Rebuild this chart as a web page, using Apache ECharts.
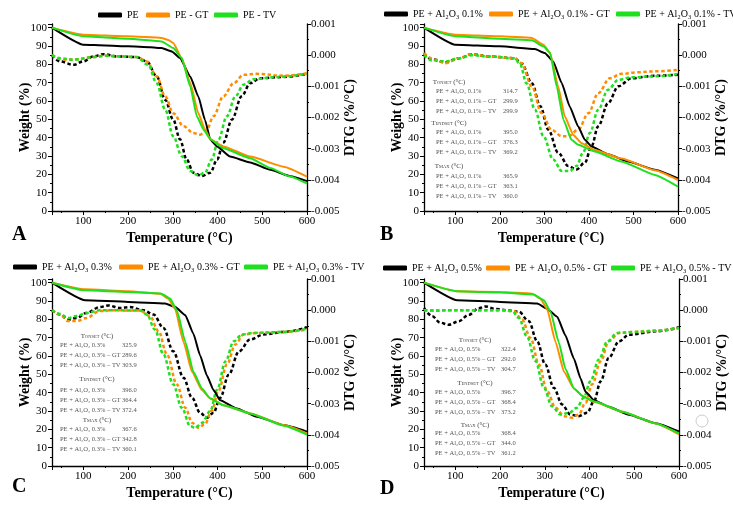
<!DOCTYPE html>
<html>
<head>
<meta charset="utf-8">
<script src="https://cdn.jsdelivr.net/npm/echarts@6/dist/echarts.min.js"></script>
<style>
html, body { margin: 0; padding: 0; background: #fff; }
#chart { width: 733px; height: 507px; }
</style>
</head>
<body>
<div id="chart"></div>
<script>
// legend names per panel
var namesA = ['PE', 'PE - GT', 'PE - TV'];
var namesB = ['PE + Al₂O₃ 0.1%', 'PE + Al₂O₃ 0.1% - GT', 'PE + Al₂O₃ 0.1% - TV'];
var namesC = ['PE + Al₂O₃ 0.3%', 'PE + Al₂O₃ 0.3% - GT', 'PE + Al₂O₃ 0.3% - TV'];
var namesD = ['PE + Al₂O₃ 0.5%', 'PE + Al₂O₃ 0.5% - GT', 'PE + Al₂O₃ 0.5% - TV'];

// weight (%) vs temperature (°C)
var wA1 = [[30,100],[100,90.7],[150,90.3],[200,89.8],[250,89.3],[275,88.9],[298,87],[316,83.4],[339,73.4],[357,62.5],[372,49.7],[384,38.8],[399,35.2],[428,29.7],[473,26.5],[518,22.5],[563,19],[600,16.3]];
var wA2 = [[30,100],[100,96.2],[200,95.3],[275,94.4],[290,93.3],[301,91.6],[320,83.4],[339,69.8],[357,53.4],[372,44.3],[384,39.2],[413,35.2],[473,29.7],[548,24.2],[600,18.8]];
var wA3 = [[30,100],[100,95.3],[200,94],[275,92.5],[301,88.9],[320,83.4],[339,67.9],[354,51.5],[369,44.3],[384,39.2],[413,34.2],[473,28.8],[518,23.5],[560,19],[600,15]];
var wB1 = [[30,100],[100,90.7],[200,89.8],[279,88.3],[301,86.2],[320,81.6],[339,69.8],[357,57],[376,46.1],[391,38.8],[406,35.2],[443,31],[488,27],[548,22.5],[600,17.8]];
var wB2 = [[30,100],[100,96.2],[200,95.3],[272,94.4],[298,90.7],[313,86.2],[331,67.9],[346,51.5],[365,41.5],[384,37],[413,33.3],[473,28.6],[548,22.2],[600,16.9]];
var wB3 = [[30,100],[100,95.3],[200,94],[272,93.1],[298,89.8],[313,86.2],[328,67.9],[343,49.7],[361,38.8],[376,36.1],[413,32.4],[473,27],[548,19.7],[600,13.3]];
var wC1 = [[30,100],[104,90.4],[200,89.5],[283,88.6],[305,86.8],[328,82.2],[346,72.2],[361,60.4],[376,49.5],[391,41.4],[406,35.9],[443,31.4],[488,26.9],[548,22.3],[600,18.7]];
var wC2 = [[30,100],[104,96.4],[200,95.3],[272,94],[290,91.3],[305,85.8],[324,67.7],[343,51.4],[365,41.4],[384,36.8],[413,33.2],[473,28.7],[548,22.3],[600,17.8]];
var wC3 = [[30,100],[104,95.8],[200,94.9],[275,94],[294,91.3],[309,84.9],[328,67.7],[346,51.4],[365,42.3],[384,36.8],[413,33.2],[473,28.7],[548,22],[600,17.2]];
var wD1 = [[30,100],[104,90.4],[200,89.5],[283,88.6],[305,85.8],[328,81.3],[346,71.3],[365,58.6],[380,47.7],[391,40.5],[410,35.9],[443,32.3],[488,28],[548,23.3],[600,18.8]];
var wD2 = [[30,100],[104,95.3],[200,94.9],[272,94],[290,91.3],[305,85.8],[324,67.7],[343,51.4],[365,42.3],[384,38.3],[410,35],[473,29.6],[548,23.2],[600,17.2]];
var wD3 = [[30,100],[104,95.3],[200,94.6],[275,93.5],[298,90.4],[313,84],[331,67.7],[346,53.2],[365,42.3],[387,37.7],[413,35],[473,29.6],[548,23.2],[600,17.8]];

// DTG (%/°C) vs temperature (°C)
var dA1 = [[30,0],[48,-0.0002],[78,-0.00031],[100,-0.0002],[122,-0.00004],[145,0.00003],[175,-0.00004],[219,-0.00006],[242,-0.0002],[264,-0.00068],[283,-0.00143],[301,-0.00207],[316,-0.0027],[331,-0.00335],[346,-0.00377],[365,-0.00388],[384,-0.00377],[399,-0.00335],[413,-0.00281],[432,-0.00207],[454,-0.00132],[473,-0.0009],[495,-0.00074],[548,-0.0007],[600,-0.0006]];
var dA2 = [[30,0],[55,-0.00015],[85,-0.00013],[122,-0.00006],[145,-0.00002],[219,-0.00006],[242,-0.0002],[264,-0.00068],[283,-0.00132],[301,-0.00186],[324,-0.00228],[346,-0.0025],[361,-0.00255],[376,-0.00239],[391,-0.00196],[413,-0.00132],[436,-0.0009],[458,-0.00063],[488,-0.0006],[548,-0.00066],[600,-0.00058]];
var dA3 = [[30,0],[48,-0.0001],[78,-0.00015],[122,-0.00006],[149,-0.00002],[219,-0.00006],[245,-0.00031],[264,-0.0009],[283,-0.00175],[301,-0.0026],[320,-0.00324],[339,-0.00372],[357,-0.00386],[372,-0.00377],[387,-0.00335],[402,-0.00271],[421,-0.00196],[440,-0.00132],[458,-0.00095],[481,-0.00077],[533,-0.0007],[600,-0.0006]];
var dB1 = [[30,0.00006],[48,-0.00013],[78,-0.00023],[108,-0.0001],[137,0.00003],[175,-0.00004],[234,-0.0001],[249,-0.00026],[272,-0.0009],[291,-0.00164],[309,-0.00239],[331,-0.00313],[354,-0.00356],[372,-0.00367],[391,-0.00345],[406,-0.00292],[421,-0.00228],[443,-0.00154],[466,-0.001],[496,-0.00074],[548,-0.00066],[600,-0.00063]];
var dB2 = [[30,0.00006],[55,-0.00015],[78,-0.00026],[108,-0.0001],[137,0.00003],[175,-0.00004],[234,-0.0001],[249,-0.00026],[272,-0.001],[294,-0.00186],[316,-0.00239],[339,-0.0026],[354,-0.0026],[376,-0.00239],[399,-0.00186],[421,-0.00122],[447,-0.00074],[473,-0.0006],[510,-0.00055],[548,-0.00052],[600,-0.00047]];
var dB3 = [[30,0],[48,-0.00017],[78,-0.0002],[108,-0.0001],[137,0],[175,-0.00004],[234,-0.0001],[246,-0.00031],[260,-0.0009],[279,-0.00175],[298,-0.0026],[320,-0.00335],[339,-0.00372],[357,-0.00372],[372,-0.00356],[387,-0.00313],[402,-0.0025],[421,-0.00175],[443,-0.00111],[466,-0.00079],[496,-0.00071],[548,-0.00068],[600,-0.00061]];
var dC1 = [[30,0],[48,-0.00014],[66,-0.0003],[85,-0.00025],[107,-0.00009],[137,0.0001],[156,0.00015],[182,0.00007],[204,0.0001],[234,0],[257,-0.00014],[279,-0.00057],[301,-0.00132],[324,-0.00217],[343,-0.00281],[361,-0.00329],[376,-0.00345],[391,-0.00329],[406,-0.00281],[425,-0.00207],[448,-0.00132],[473,-0.00094],[503,-0.00078],[548,-0.0007],[600,-0.00055]];
var dC2 = [[30,0],[48,-0.00014],[66,-0.00035],[85,-0.00035],[107,-0.00025],[137,-0.00003],[167,0],[204,-0.00001],[227,-0.00001],[249,-0.00019],[268,-0.00067],[287,-0.00142],[309,-0.00238],[328,-0.00313],[343,-0.00361],[357,-0.00377],[372,-0.00366],[387,-0.00323],[402,-0.00259],[421,-0.00174],[440,-0.0011],[458,-0.00078],[488,-0.00073],[548,-0.0007],[600,-0.00062]];
var dC3 = [[30,0],[48,-0.00012],[66,-0.00025],[85,-0.00019],[107,-0.00009],[137,0],[167,0],[204,-0.00001],[227,-0.00001],[242,-0.00014],[260,-0.00062],[279,-0.00142],[301,-0.00238],[320,-0.00313],[339,-0.00372],[350,-0.00378],[365,-0.00362],[384,-0.00323],[399,-0.00255],[418,-0.00164],[436,-0.001],[455,-0.00078],[481,-0.00073],[548,-0.0007],[600,-0.0006]];
var dD1 = [[30,0.00007],[48,-0.00019],[66,-0.0004],[85,-0.00047],[107,-0.00036],[130,-0.00015],[152,0.00006],[167,0.00012],[190,0.00004],[219,-0.00001],[242,-0.00005],[264,-0.00035],[283,-0.001],[301,-0.00174],[320,-0.00249],[339,-0.00303],[357,-0.00335],[376,-0.0034],[395,-0.00329],[410,-0.00292],[425,-0.00228],[443,-0.00153],[466,-0.001],[488,-0.00079],[548,-0.00068],[600,-0.00055]];
var dD2 = [[30,0],[85,0],[150,0],[204,0],[231,-0.00003],[249,-0.0003],[268,-0.00089],[287,-0.00174],[305,-0.00259],[324,-0.00313],[343,-0.0034],[361,-0.00345],[376,-0.00335],[391,-0.00297],[406,-0.00238],[425,-0.00164],[443,-0.001],[466,-0.00073],[496,-0.0007],[548,-0.00066],[600,-0.00057]];
var dD3 = [[30,0],[55,-0.00002],[85,0],[150,0],[204,0],[227,-0.00003],[242,-0.00025],[260,-0.00084],[279,-0.00163],[298,-0.00249],[316,-0.00308],[335,-0.00335],[354,-0.0033],[372,-0.00313],[387,-0.00281],[402,-0.00228],[421,-0.00158],[440,-0.001],[462,-0.00073],[496,-0.0007],[548,-0.00066],[600,-0.00057]];

// inset tables: onset / endset / max temperatures (°C)
var tblHeads = ['ONSET', 'ENDSET', 'MAX'];
var labB = ['PE + Al₂O₃ 0.1%', 'PE + Al₂O₃ 0.1% – GT', 'PE + Al₂O₃ 0.1% – TV'];
var labC = ['PE + Al₂O₃ 0.3%', 'PE + Al₂O₃ 0.3% – GT', 'PE + Al₂O₃ 0.3% – TV'];
var labD = ['PE + Al₂O₃ 0.5%', 'PE + Al₂O₃ 0.5% – GT', 'PE + Al₂O₃ 0.5% – TV'];
var tblB = [[314.7, 299.9, 299.9], [395.0, 376.3, 369.2], [365.9, 363.1, 360.0]];
var tblC = [[325.9, 289.6, 303.9], [396.0, 364.4, 372.4], [367.6, 342.8, 360.1]];
var tblD = [[322.4, 292.0, 304.7], [396.7, 368.4, 373.2], [368.4, 344.0, 361.2]];

var F = 'Liberation Serif';
var colors = ['#000000', '#ff8c00', '#1ee01e'];

var panels = [
    {names: namesA, w: [wA1, wA2, wA3], d: [dA1, dA2, dA3], letter: 'A'},
    {names: namesB, w: [wB1, wB2, wB3], d: [dB1, dB2, dB3], letter: 'B'},
    {names: namesC, w: [wC1, wC2, wC3], d: [dC1, dC2, dC3], letter: 'C'},
    {names: namesD, w: [wD1, wD2, wD3], d: [dD1, dD2, dD3], letter: 'D'}
];

// layout
var grids = [
    {left: 52, top: 24, width: 255, height: 187},
    {left: 424, top: 24, width: 254, height: 187},
    {left: 52, top: 279, width: 255, height: 187},
    {left: 424, top: 279, width: 255, height: 187}
];
var legendPos = [
    [[93, 5], [141, 5], [209, 5]],
    [[379, 4], [484, 4], [611, 4]],
    [[8, 257], [114, 257], [239, 257]],
    [[378, 258], [481, 258], [606, 258]]
];
var letterPos = [[12, 225], [380, 225], [12, 477], [380, 479]];
var tableLayout = [
    null,
    {lab: labB, val: tblB, labelX: 436, valX: 503, headX: 449, headY: [81, 122, 165], rowY: [91, 132, 176]},
    {lab: labC, val: tblC, labelX: 60, valX: 122, headX: 97, headY: [335, 378, 419], rowY: [345, 390, 429]},
    {lab: labD, val: tblD, labelX: 435, valX: 501, headX: 475, headY: [339, 382, 424], rowY: [349, 392, 433]}
];

var axisLineStyle = {lineStyle: {color: '#000', width: 1.3}};
var tickStyle = {length: 4, lineStyle: {color: '#000', width: 1}};
var minorStyle = {show: true, splitNumber: 2, length: 2, lineStyle: {color: '#000', width: 1}};
var nameStyle = {fontFamily: F, fontSize: 14, fontWeight: 'bold', color: '#000'};
var labelStyle = {fontFamily: F, fontSize: 11, color: '#000'};

var xAxes = [], yAxes = [], series = [], legends = [], graphics = [];

panels.forEach(function (p, i) {
    xAxes.push({
        gridIndex: i, type: 'value', min: 30, max: 600, splitNumber: 5,
        name: 'Temperature (°C)', nameLocation: 'middle', nameGap: 20, nameTextStyle: nameStyle,
        axisLine: {onZero: false, lineStyle: axisLineStyle.lineStyle},
        axisTick: tickStyle, minorTick: minorStyle,
        axisLabel: Object.assign({margin: 5, showMinLabel: false}, labelStyle),
        splitLine: {show: false}
    });
    yAxes.push({
        gridIndex: i, type: 'value', min: 0, max: 102, interval: 10, position: 'left',
        name: 'Weight (%)', nameLocation: 'middle', nameGap: 20, nameRotate: 90, nameMoveOverlap: false,
        nameTextStyle: nameStyle,
        axisLine: {show: true, lineStyle: axisLineStyle.lineStyle},
        axisTick: tickStyle, minorTick: minorStyle,
        axisLabel: Object.assign({margin: 5, showMaxLabel: false}, labelStyle),
        splitLine: {show: false}
    });
    yAxes.push({
        gridIndex: i, type: 'value', min: -0.005, max: 0.001, interval: 0.001, position: 'right',
        name: 'DTG (%/°C)', nameLocation: 'middle', nameGap: 36, nameRotate: 90, nameMoveOverlap: false,
        nameTextStyle: nameStyle,
        axisLine: {show: true, lineStyle: axisLineStyle.lineStyle},
        axisTick: tickStyle, minorTick: minorStyle,
        axisLabel: Object.assign({
            margin: 4,
            formatter: function (v) { return Math.abs(v) < 1e-9 ? '0.000' : v.toFixed(3); }
        }, labelStyle),
        splitLine: {show: false}
    });
    p.names.forEach(function (n, k) {
        series.push({
            name: n, type: 'line', xAxisIndex: i, yAxisIndex: 2 * i,
            data: p.w[k], showSymbol: false, symbol: 'none', smooth: 0.15, smoothMonotone: 'x',
            color: colors[k], lineStyle: {width: 2, color: colors[k]}, z: 3 + k
        });
    });
    p.names.forEach(function (n, k) {
        series.push({
            name: n, type: 'line', xAxisIndex: i, yAxisIndex: 2 * i + 1,
            data: p.d[k], showSymbol: false, symbol: 'none', smooth: 0.35, smoothMonotone: 'x',
            color: colors[k], lineStyle: {width: 2.5, type: [3.5, 2.5], color: colors[k]}, z: 2
        });
        legends.push({
            data: [n], left: legendPos[i][k][0], top: legendPos[i][k][1],
            icon: 'roundRect', itemWidth: 24, itemHeight: 5, selectedMode: false,
            textStyle: {fontFamily: F, fontSize: 10, color: '#000'}
        });
    });
    graphics.push({
        type: 'text', x: letterPos[i][0], y: letterPos[i][1],
        style: {text: p.letter, fontFamily: F, fontSize: 20, fontWeight: 'bold', fill: '#000'}
    });
    var t = tableLayout[i];
    if (t) {
        tblHeads.forEach(function (h, r) {
            graphics.push({
                type: 'text', x: t.headX, y: t.headY[r],
                style: {
                    text: '{a|T}{b|' + h + '}{a| (°C)}', align: 'center', verticalAlign: 'middle',
                    rich: {
                        a: {fontFamily: F, fontSize: 7, fill: '#444', verticalAlign: 'bottom', lineHeight: 9},
                        b: {fontFamily: F, fontSize: 4.5, fill: '#444', verticalAlign: 'bottom', lineHeight: 7}
                    }
                }
            });
            t.lab.forEach(function (lab, j) {
                var y = t.rowY[r] + j * 10;
                graphics.push({
                    type: 'text', x: t.labelX, y: y,
                    style: {text: lab, fontFamily: F, fontSize: 6.5, fill: '#555', align: 'left', verticalAlign: 'middle'}
                });
                graphics.push({
                    type: 'text', x: t.valX, y: y,
                    style: {text: t.val[r][j].toFixed(1), fontFamily: F, fontSize: 6.5, fill: '#555', align: 'left', verticalAlign: 'middle'}
                });
            });
        });
    }
});

// faint circle mark in panel D
graphics.push({type: 'circle', shape: {cx: 702, cy: 421, r: 6}, style: {fill: 'none', stroke: '#cccccc', lineWidth: 1}});

var myChart = echarts.init(document.getElementById('chart'));
myChart.setOption({
    animation: false,
    backgroundColor: '#fff',
    grid: grids,
    xAxis: xAxes,
    yAxis: yAxes,
    legend: legends,
    series: series,
    graphic: graphics
});
</script>
</body>
</html>
